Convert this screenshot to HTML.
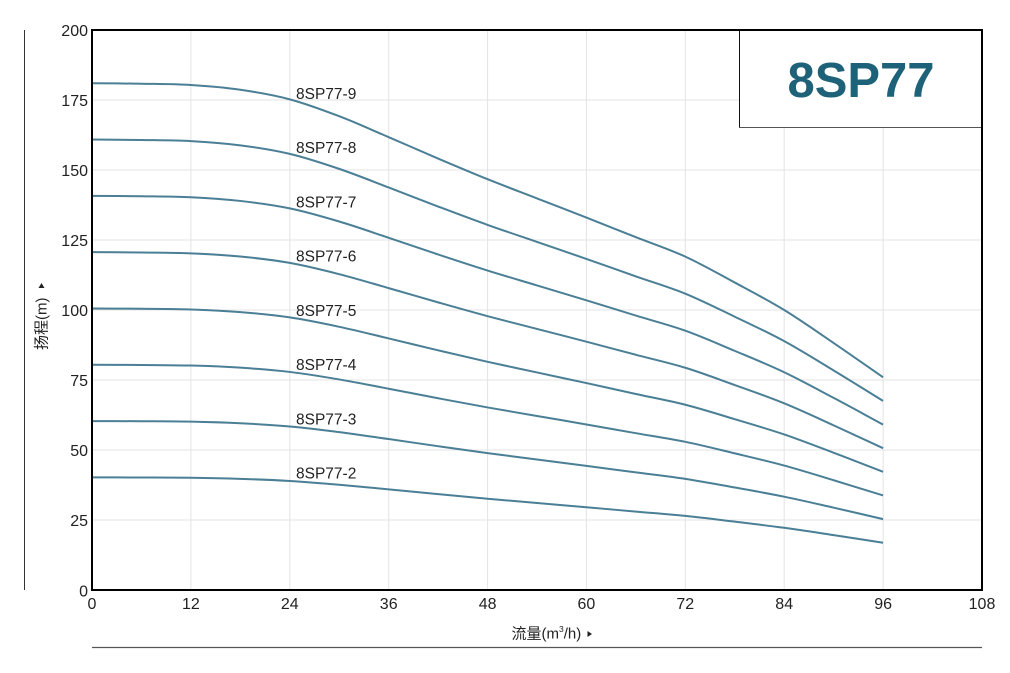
<!DOCTYPE html>
<html><head><meta charset="utf-8"><style>
html,body{margin:0;padding:0;background:#fff;}
svg{display:block;}
text{font-family:"Liberation Sans","Noto Sans CJK SC",sans-serif;fill:#222;}
.c{fill:none;stroke:#4a7f96;stroke-width:2;vector-effect:non-scaling-stroke;}
</style></head><body>
<svg width="1010" height="673" viewBox="0 0 1010 673" xmlns="http://www.w3.org/2000/svg">
<rect width="1010" height="673" fill="#fff"/>
<g stroke="#e3e3e3" stroke-width="1">
<line x1="190.9" y1="30" x2="190.9" y2="590"/>
<line x1="289.8" y1="30" x2="289.8" y2="590"/>
<line x1="388.7" y1="30" x2="388.7" y2="590"/>
<line x1="487.6" y1="30" x2="487.6" y2="590"/>
<line x1="586.4" y1="30" x2="586.4" y2="590"/>
<line x1="685.3" y1="30" x2="685.3" y2="590"/>
<line x1="784.2" y1="30" x2="784.2" y2="590"/>
<line x1="883.1" y1="30" x2="883.1" y2="590"/>
<line x1="92" y1="100" x2="982" y2="100"/>
<line x1="92" y1="170" x2="982" y2="170"/>
<line x1="92" y1="240" x2="982" y2="240"/>
<line x1="92" y1="310" x2="982" y2="310"/>
<line x1="92" y1="380" x2="982" y2="380"/>
<line x1="92" y1="450" x2="982" y2="450"/>
<line x1="92" y1="520" x2="982" y2="520"/>
</g>
<path class="c" transform="translate(0,590) scale(1,-25.2)" d="M92,20.11 C108.5,20.103 124.9,20.102 141.4,20.09 C157.9,20.078 174.4,20.08 190.9,20.04 C207.4,20.0 223.8,19.945 240.3,19.85 C256.8,19.755 273.3,19.645 289.8,19.47 C306.3,19.295 322.7,19.05 339.2,18.8 C355.7,18.55 372.2,18.25 388.7,17.97 C405.2,17.69 421.6,17.398 438.1,17.12 C454.6,16.842 471.1,16.563 487.6,16.3 C504.1,16.037 520.5,15.793 537.0,15.54 C553.5,15.287 569.9,15.037 586.4,14.78 C602.9,14.523 619.4,14.258 635.9,14.0 C652.4,13.742 668.8,13.53 685.3,13.23 C701.8,12.93 718.3,12.553 734.8,12.2 C751.3,11.847 767.7,11.51 784.2,11.11 C800.7,10.71 817.2,10.245 833.7,9.8 C850.2,9.355 866.6,8.893 883.1,8.44"/>
<path class="c" transform="translate(0,590) scale(1,-22.4)" d="M92,20.11 C108.5,20.103 124.9,20.102 141.4,20.09 C157.9,20.078 174.4,20.08 190.9,20.04 C207.4,20.0 223.8,19.945 240.3,19.85 C256.8,19.755 273.3,19.645 289.8,19.47 C306.3,19.295 322.7,19.05 339.2,18.8 C355.7,18.55 372.2,18.25 388.7,17.97 C405.2,17.69 421.6,17.398 438.1,17.12 C454.6,16.842 471.1,16.563 487.6,16.3 C504.1,16.037 520.5,15.793 537.0,15.54 C553.5,15.287 569.9,15.037 586.4,14.78 C602.9,14.523 619.4,14.258 635.9,14.0 C652.4,13.742 668.8,13.53 685.3,13.23 C701.8,12.93 718.3,12.553 734.8,12.2 C751.3,11.847 767.7,11.51 784.2,11.11 C800.7,10.71 817.2,10.245 833.7,9.8 C850.2,9.355 866.6,8.893 883.1,8.44"/>
<path class="c" transform="translate(0,590) scale(1,-19.6)" d="M92,20.11 C108.5,20.103 124.9,20.102 141.4,20.09 C157.9,20.078 174.4,20.08 190.9,20.04 C207.4,20.0 223.8,19.945 240.3,19.85 C256.8,19.755 273.3,19.645 289.8,19.47 C306.3,19.295 322.7,19.05 339.2,18.8 C355.7,18.55 372.2,18.25 388.7,17.97 C405.2,17.69 421.6,17.398 438.1,17.12 C454.6,16.842 471.1,16.563 487.6,16.3 C504.1,16.037 520.5,15.793 537.0,15.54 C553.5,15.287 569.9,15.037 586.4,14.78 C602.9,14.523 619.4,14.258 635.9,14.0 C652.4,13.742 668.8,13.53 685.3,13.23 C701.8,12.93 718.3,12.553 734.8,12.2 C751.3,11.847 767.7,11.51 784.2,11.11 C800.7,10.71 817.2,10.245 833.7,9.8 C850.2,9.355 866.6,8.893 883.1,8.44"/>
<path class="c" transform="translate(0,590) scale(1,-16.8)" d="M92,20.11 C108.5,20.103 124.9,20.102 141.4,20.09 C157.9,20.078 174.4,20.08 190.9,20.04 C207.4,20.0 223.8,19.945 240.3,19.85 C256.8,19.755 273.3,19.645 289.8,19.47 C306.3,19.295 322.7,19.05 339.2,18.8 C355.7,18.55 372.2,18.25 388.7,17.97 C405.2,17.69 421.6,17.398 438.1,17.12 C454.6,16.842 471.1,16.563 487.6,16.3 C504.1,16.037 520.5,15.793 537.0,15.54 C553.5,15.287 569.9,15.037 586.4,14.78 C602.9,14.523 619.4,14.258 635.9,14.0 C652.4,13.742 668.8,13.53 685.3,13.23 C701.8,12.93 718.3,12.553 734.8,12.2 C751.3,11.847 767.7,11.51 784.2,11.11 C800.7,10.71 817.2,10.245 833.7,9.8 C850.2,9.355 866.6,8.893 883.1,8.44"/>
<path class="c" transform="translate(0,590) scale(1,-14)" d="M92,20.11 C108.5,20.103 124.9,20.102 141.4,20.09 C157.9,20.078 174.4,20.08 190.9,20.04 C207.4,20.0 223.8,19.945 240.3,19.85 C256.8,19.755 273.3,19.645 289.8,19.47 C306.3,19.295 322.7,19.05 339.2,18.8 C355.7,18.55 372.2,18.25 388.7,17.97 C405.2,17.69 421.6,17.398 438.1,17.12 C454.6,16.842 471.1,16.563 487.6,16.3 C504.1,16.037 520.5,15.793 537.0,15.54 C553.5,15.287 569.9,15.037 586.4,14.78 C602.9,14.523 619.4,14.258 635.9,14.0 C652.4,13.742 668.8,13.53 685.3,13.23 C701.8,12.93 718.3,12.553 734.8,12.2 C751.3,11.847 767.7,11.51 784.2,11.11 C800.7,10.71 817.2,10.245 833.7,9.8 C850.2,9.355 866.6,8.893 883.1,8.44"/>
<path class="c" transform="translate(0,590) scale(1,-11.2)" d="M92,20.11 C108.5,20.103 124.9,20.102 141.4,20.09 C157.9,20.078 174.4,20.08 190.9,20.04 C207.4,20.0 223.8,19.945 240.3,19.85 C256.8,19.755 273.3,19.645 289.8,19.47 C306.3,19.295 322.7,19.05 339.2,18.8 C355.7,18.55 372.2,18.25 388.7,17.97 C405.2,17.69 421.6,17.398 438.1,17.12 C454.6,16.842 471.1,16.563 487.6,16.3 C504.1,16.037 520.5,15.793 537.0,15.54 C553.5,15.287 569.9,15.037 586.4,14.78 C602.9,14.523 619.4,14.258 635.9,14.0 C652.4,13.742 668.8,13.53 685.3,13.23 C701.8,12.93 718.3,12.553 734.8,12.2 C751.3,11.847 767.7,11.51 784.2,11.11 C800.7,10.71 817.2,10.245 833.7,9.8 C850.2,9.355 866.6,8.893 883.1,8.44"/>
<path class="c" transform="translate(0,590) scale(1,-8.4)" d="M92,20.11 C108.5,20.103 124.9,20.102 141.4,20.09 C157.9,20.078 174.4,20.08 190.9,20.04 C207.4,20.0 223.8,19.945 240.3,19.85 C256.8,19.755 273.3,19.645 289.8,19.47 C306.3,19.295 322.7,19.05 339.2,18.8 C355.7,18.55 372.2,18.25 388.7,17.97 C405.2,17.69 421.6,17.398 438.1,17.12 C454.6,16.842 471.1,16.563 487.6,16.3 C504.1,16.037 520.5,15.793 537.0,15.54 C553.5,15.287 569.9,15.037 586.4,14.78 C602.9,14.523 619.4,14.258 635.9,14.0 C652.4,13.742 668.8,13.53 685.3,13.23 C701.8,12.93 718.3,12.553 734.8,12.2 C751.3,11.847 767.7,11.51 784.2,11.11 C800.7,10.71 817.2,10.245 833.7,9.8 C850.2,9.355 866.6,8.893 883.1,8.44"/>
<path class="c" transform="translate(0,590) scale(1,-5.6)" d="M92,20.11 C108.5,20.103 124.9,20.102 141.4,20.09 C157.9,20.078 174.4,20.08 190.9,20.04 C207.4,20.0 223.8,19.945 240.3,19.85 C256.8,19.755 273.3,19.645 289.8,19.47 C306.3,19.295 322.7,19.05 339.2,18.8 C355.7,18.55 372.2,18.25 388.7,17.97 C405.2,17.69 421.6,17.398 438.1,17.12 C454.6,16.842 471.1,16.563 487.6,16.3 C504.1,16.037 520.5,15.793 537.0,15.54 C553.5,15.287 569.9,15.037 586.4,14.78 C602.9,14.523 619.4,14.258 635.9,14.0 C652.4,13.742 668.8,13.53 685.3,13.23 C701.8,12.93 718.3,12.553 734.8,12.2 C751.3,11.847 767.7,11.51 784.2,11.11 C800.7,10.71 817.2,10.245 833.7,9.8 C850.2,9.355 866.6,8.893 883.1,8.44"/>
<g font-size="15.5">
<text x="296" y="99">8SP77-9</text>
<text x="296" y="153">8SP77-8</text>
<text x="296" y="207.5">8SP77-7</text>
<text x="296" y="261.5">8SP77-6</text>
<text x="296" y="316">8SP77-5</text>
<text x="296" y="370">8SP77-4</text>
<text x="296" y="424.5">8SP77-3</text>
<text x="296" y="478.5">8SP77-2</text>
</g>
<rect x="739" y="30" width="243" height="97" fill="#fff"/>
<line x1="739.5" y1="30" x2="739.5" y2="127.5" stroke="#111" stroke-width="1"/>
<line x1="739" y1="127.5" x2="982" y2="127.5" stroke="#555" stroke-width="1"/>
<text x="861" y="97" text-anchor="middle" font-size="49" font-weight="bold" style="fill:#1e6279">8SP77</text>
<rect x="92" y="30" width="890" height="560" fill="none" stroke="#000" stroke-width="2"/>
<line x1="24.5" y1="30" x2="24.5" y2="590" stroke="#333" stroke-width="1"/>
<line x1="92" y1="647.5" x2="982" y2="647.5" stroke="#555" stroke-width="1.2"/>
<g font-size="16" text-anchor="end">
<text x="88" y="36">200</text>
<text x="88" y="106">175</text>
<text x="88" y="176">150</text>
<text x="88" y="246">125</text>
<text x="88" y="316">100</text>
<text x="88" y="386">75</text>
<text x="88" y="456">50</text>
<text x="88" y="526">25</text>
<text x="88" y="596.5">0</text>
</g>
<g font-size="16" text-anchor="middle">
<text x="92" y="609">0</text>
<text x="190.9" y="609">12</text>
<text x="289.8" y="609">24</text>
<text x="388.7" y="609">36</text>
<text x="487.6" y="609">48</text>
<text x="586.4" y="609">60</text>
<text x="685.3" y="609">72</text>
<text x="784.2" y="609">84</text>
<text x="883.1" y="609">96</text>
<text x="982" y="609">108</text>
</g>
<text x="511.5" y="638.5" font-size="15">流量(m<tspan font-size="8.5" dy="-6.5">3</tspan><tspan dy="6.5">/h)</tspan></text>
<polygon points="587.5,631 592,634 587.5,637" fill="#222"/>
<text transform="translate(46.5,350) rotate(-90)" font-size="15">扬程(m)</text>
<polygon points="38.5,288 41.5,283 44.5,288" fill="#222"/>
</svg>
</body></html>
